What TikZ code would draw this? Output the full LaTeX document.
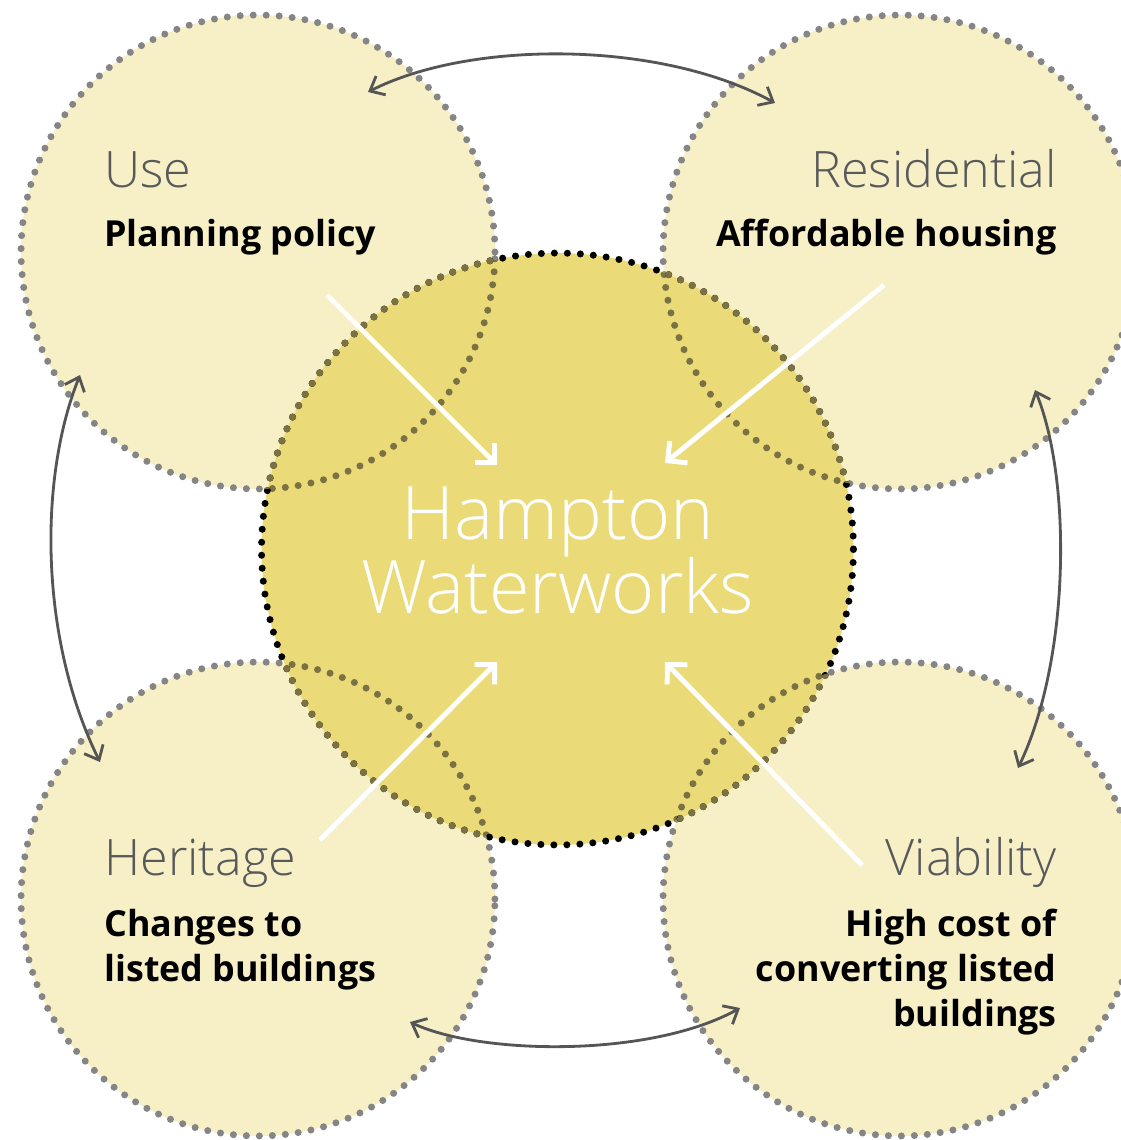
\documentclass[tikz,border=0pt]{standalone}
\usepackage{fontspec}
\setmainfont{Open Sans}
\newfontfamily\lightfont{Open Sans}[UprightFont=* Light]
\usetikzlibrary{arrows.meta}
\definecolor{outerfill}{HTML}{F7EFC6}
\definecolor{hubfill}{HTML}{EADA78}
\definecolor{dotgrey}{HTML}{858585}
\definecolor{dotolive}{HTML}{7A7242}
\definecolor{titlegrey}{HTML}{58595B}
\definecolor{linkgrey}{HTML}{555555}
\tikzset{
  dotline/.style={line width=4pt, line cap=round, dash pattern=on 0pt off 7.4pt},
  areatitle/.style={inner sep=0pt, text=titlegrey, font=\lightfont\fontsize{28.6}{30}\selectfont},
  areanote/.style={inner sep=0pt, text=black, align=#1, font=\bfseries\fontsize{20.4}{25.4}\selectfont},
  linkarrow/.style={draw=linkgrey, line width=1.6pt, {Straight Barb[length=7pt,width=12pt]}-{Straight Barb[length=7pt,width=12pt]}},
  feedarrow/.style={draw=white, line width=2.8pt, -{Straight Barb[length=8pt,width=16pt]}}
}
\newcommand{\outerr}{4.74cm}
\newcommand{\hubr}{5.92cm}

\begin{document}
\begin{tikzpicture}[x=0.02cm, y=-0.02cm]
\useasboundingbox (0,0) rectangle (1121,1140);
% circle centres
\coordinate (use) at (258,252);
\coordinate (res) at (900,252);
\coordinate (her) at (258,899);
\coordinate (via) at (900,899);
\coordinate (hub) at (557.5,549);

% outer circles
\foreach \c in {use,res,her,via}
  \fill[outerfill] (\c) circle (\outerr);
\foreach \c in {use,res,her,via}
  \draw[dotline, dotgrey] (\c) circle (\outerr);

% hub circle
\fill[hubfill] (hub) circle (\hubr);
\begin{scope}
  \clip (hub) circle (\hubr);
  \foreach \c in {use,res,her,via}
    \draw[dotline, dotolive] (\c) circle (\outerr);
\end{scope}
\draw[dotline, black] (hub) circle (\hubr);
\begin{scope}
  \clip (use) circle (\outerr) (res) circle (\outerr) (her) circle (\outerr) (via) circle (\outerr);
  \draw[dotline, dotolive] (hub) circle (\hubr);
\end{scope}

% texts
\node[areatitle, anchor=base west] (usetitle) at (104,187) {Use};
\node[areanote=left, anchor=base west] (usenote) at (104,246) {Planning policy};
\node[areatitle, anchor=base east] (restitle) at (1057,187) {Residential};
\node[areanote=right, anchor=base east] (resnote) at (1057,246) {Affordable housing};
\node[areatitle, anchor=base west] (hertitle) at (104,875) {Heritage};
\node[areanote=left, anchor=north west] (hernote) at (104,909) {Changes to\\listed buildings};
\node[areatitle, anchor=base east] (viatitle) at (1057,875) {Viability};
\node[areanote=right, anchor=north east] (vianote) at (1057,909) {High cost of\\converting listed\\buildings};
\node[inner sep=0pt, text=white, align=center, anchor=north,
  font=\lightfont\fontsize{42}{42.5}\selectfont] (hubtext) at (557.5,486) {Hampton\\Waterworks};

% links between the outer circles
\coordinate (ua) at (368,92);  \coordinate (rb) at (775,103);
\coordinate (ul) at (80,375);  \coordinate (hl) at (100,762);
\coordinate (rr) at (1035,390); \coordinate (vr) at (1018,768);
\coordinate (hb) at (410,1022); \coordinate (vb) at (740,1008);
\draw[linkarrow] (ua) .. controls (470,40) and (660,40) .. (rb);
\draw[linkarrow] (ul) .. controls (38,480) and (40,640) .. (hl);
\draw[linkarrow] (rr) .. controls (1072,480) and (1070,660) .. (vr);
\draw[linkarrow] (hb) .. controls (480,1055) and (650,1058) .. (vb);

% arrows into the hub
\coordinate (usefrom) at (327,295);  \coordinate (useto) at (497,465);
\coordinate (resfrom) at (884,285);  \coordinate (resto) at (665,463);
\coordinate (herfrom) at (320,840);  \coordinate (herto) at (497,662);
\coordinate (viafrom) at (862,865);  \coordinate (viato) at (665,662);
\draw[feedarrow] (usefrom) -- (useto);
\draw[feedarrow] (resfrom) -- (resto);
\draw[feedarrow] (herfrom) -- (herto);
\draw[feedarrow] (viafrom) -- (viato);
\end{tikzpicture}
\end{document}
